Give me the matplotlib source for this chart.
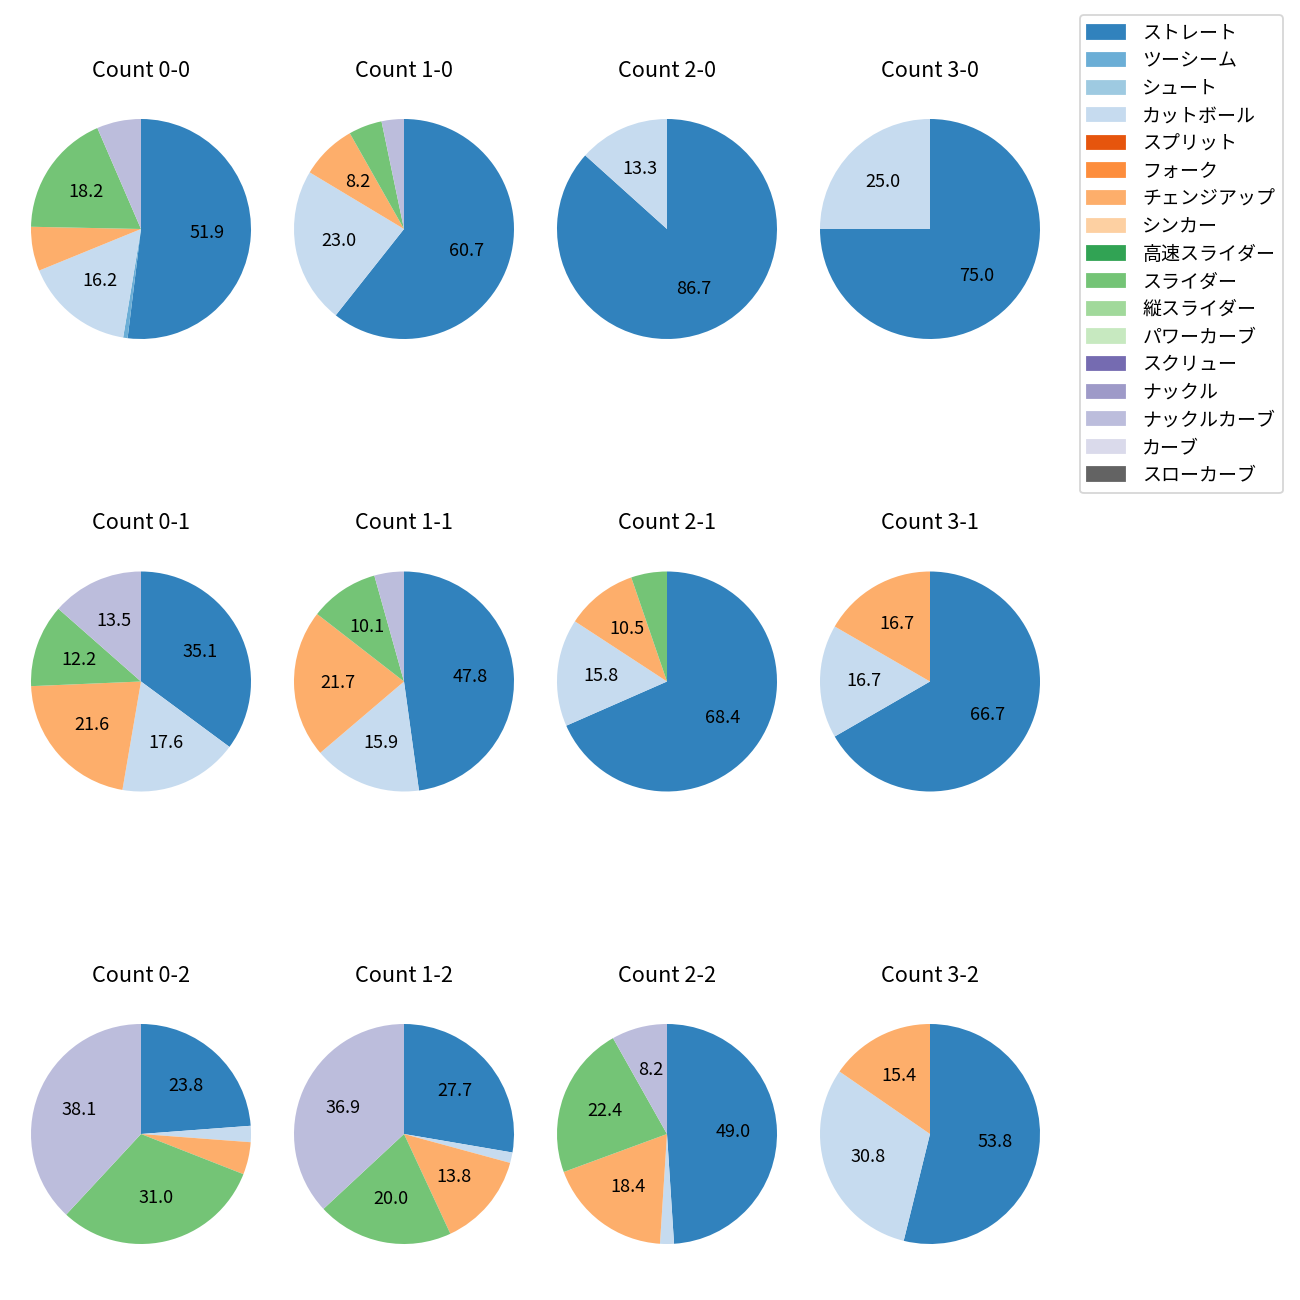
import matplotlib.pyplot as plt
from matplotlib.patches import Patch

plt.rcParams['font.family'] = ['Noto Sans CJK JP', 'DejaVu Sans']

pitch_types = ['ストレート', 'ツーシーム', 'シュート', 'カットボール', 'スプリット', 'フォーク',
               'チェンジアップ', 'シンカー', '高速スライダー', 'スライダー', '縦スライダー',
               'パワーカーブ', 'スクリュー', 'ナックル', 'ナックルカーブ', 'カーブ', 'スローカーブ']
colors = [plt.cm.tab20c(i) for i in range(len(pitch_types))]

# pitch counts per ball-strike count, same order as pitch_types
c00 = [80, 1, 0, 25, 0, 0, 10, 0, 0, 28, 0, 0, 0, 0, 10, 0, 0]
c10 = [37, 0, 0, 14, 0, 0, 5, 0, 0, 3, 0, 0, 0, 0, 2, 0, 0]
c20 = [13, 0, 0, 2, 0, 0, 0, 0, 0, 0, 0, 0, 0, 0, 0, 0, 0]
c30 = [3, 0, 0, 1, 0, 0, 0, 0, 0, 0, 0, 0, 0, 0, 0, 0, 0]
c01 = [26, 0, 0, 13, 0, 0, 16, 0, 0, 9, 0, 0, 0, 0, 10, 0, 0]
c11 = [33, 0, 0, 11, 0, 0, 15, 0, 0, 7, 0, 0, 0, 0, 3, 0, 0]
c21 = [13, 0, 0, 3, 0, 0, 2, 0, 0, 1, 0, 0, 0, 0, 0, 0, 0]
c31 = [4, 0, 0, 1, 0, 0, 1, 0, 0, 0, 0, 0, 0, 0, 0, 0, 0]
c02 = [10, 0, 0, 1, 0, 0, 2, 0, 0, 13, 0, 0, 0, 0, 16, 0, 0]
c12 = [18, 0, 0, 1, 0, 0, 9, 0, 0, 13, 0, 0, 0, 0, 24, 0, 0]
c22 = [24, 0, 0, 1, 0, 0, 9, 0, 0, 11, 0, 0, 0, 0, 4, 0, 0]
c32 = [7, 0, 0, 4, 0, 0, 2, 0, 0, 0, 0, 0, 0, 0, 0, 0, 0]

grid = [[('0-0', c00), ('1-0', c10), ('2-0', c20), ('3-0', c30)],
        [('0-1', c01), ('1-1', c11), ('2-1', c21), ('3-1', c31)],
        [('0-2', c02), ('1-2', c12), ('2-2', c22), ('3-2', c32)]]

fig = plt.figure(figsize=(10, 10), dpi=130)

W = 1300.0
side = 275 / W
for r, row in enumerate(grid):
    for c, (label, vals) in enumerate(row):
        cx = (141 + 263 * c) / W
        cy = 1 - (229 + 452.5 * r) / W
        ax = fig.add_axes([cx - side / 2, cy - side / 2, side, side])
        v = [x for x in vals if x > 0]
        col = [colors[i] for i, x in enumerate(vals) if x > 0]
        ax.pie(v, colors=col, startangle=90, counterclock=False,
               autopct=lambda p: f'{p:.1f}' if p >= 8 else '')
        ax.set_title(f'Count {label}', fontsize=12, pad=8.2)

handles = [Patch(color=colors[i], label=p) for i, p in enumerate(pitch_types)]
fig.legend(handles=handles, loc='upper right', fontsize=10.5,
           borderaxespad=0, handletextpad=0.9, labelspacing=0.35,
           bbox_to_anchor=(1283 / W, 1 - 15 / W))

fig.savefig('out.png', dpi=130)
